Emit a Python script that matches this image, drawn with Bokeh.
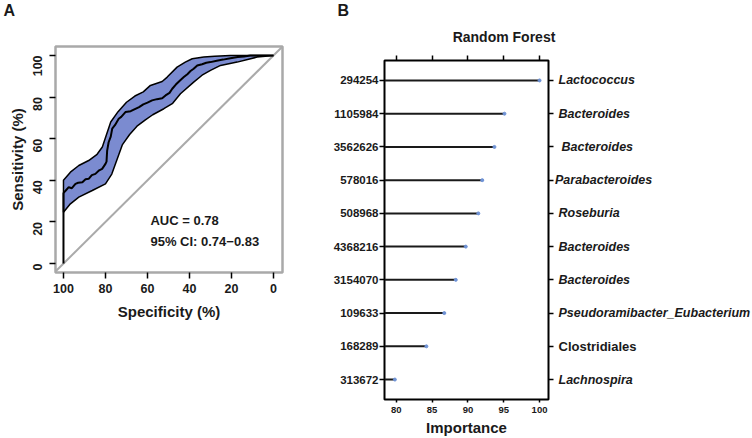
import math
from bokeh.plotting import figure
from bokeh.models import Range1d, FixedTicker, LinearAxis, Label, Title
from bokeh.layouts import row, column
from bokeh.embed import file_html
from bokeh.resources import INLINE
from bokeh.core.properties import value

FONT = "Liberation Sans"
INK = "#1a1a1a"

# ---------------- Panel A data (ROC) ----------------
roc_spec = [100, 100, 99, 97.5, 96, 94.3, 93, 91, 89.5, 88, 86.5, 84.8, 83, 81.6, 80, 79.5, 79.2, 78.5, 77.5, 76.8,
            75.5, 73.7, 72.5, 70.5, 68, 66, 64, 62, 60, 57.8, 55.5, 53, 51.4, 49.5, 48.2, 46.5, 44.5, 42.7, 41, 39.5,
            38, 36.3, 34, 32, 30, 27, 24, 20.5, 17, 14, 11, 6, 0]
roc_sens = [0, 33.8, 35, 36.7, 36.2, 38.3, 38.8, 39.1, 40.5, 40.7, 42.5, 43.1, 44.8, 45.5, 47.9, 49, 54.3, 58.3, 61, 64.8,
            66.5, 69.6, 70.5, 72.8, 73.2, 74.2, 75.2, 76.5, 77.3, 78.4, 79, 79.4, 80.8, 82, 84, 86, 88, 89.6, 91, 92.5,
            93.6, 95.2, 95.8, 96.5, 96.8, 97.5, 98, 98.7, 99.2, 99.5, 100, 100, 100]
ci_upper_spec = [100, 96.7, 92.7, 88, 84, 81.5, 79.5, 77.5, 74, 70, 66, 62, 58.6, 53, 50.6, 45.9, 42, 38.7, 33.2, 28, 20.5, 10, 0]
ci_upper_sens = [40, 43.9, 47.1, 49.5, 52.5, 56, 62, 68, 73, 77.5, 80.5, 82.5, 85.6, 87.5, 89.6, 94.4, 96.8, 98.4, 99.2, 99.6, 100, 100, 100]
ci_lower_spec = [100, 96.7, 92.7, 86.3, 80, 77, 74.5, 72, 68.5, 65, 61, 57.5, 52.2, 48, 44.3, 38, 34, 30, 25.2, 17.3, 7.8, 0]
ci_lower_sens = [24.7, 28.7, 31.9, 35.1, 38.3, 43, 50, 57, 62, 66, 69, 71.5, 74.4, 77, 81.6, 87.2, 90.5, 92.8, 95.2, 96.8, 99.2, 100]
axis_ticks_a = [0, 20, 40, 60, 80, 100]
auc_text = "AUC = 0.78"
ci_text = "95% CI: 0.74\u22120.83"

# ---------------- Panel B data (importance) ----------------
otu_ids = ["294254", "1105984", "3562626", "578016", "508968", "4368216", "3154070", "109633", "168289", "313672"]
taxa = ["Lactococcus", "Bacteroides", "Bacteroides", "Parabacteroides", "Roseburia", "Bacteroides",
        "Bacteroides", "Pseudoramibacter_Eubacterium", "Clostridiales", "Lachnospira"]
taxa_italic = [True, True, True, True, True, True, True, True, False, True]
importance = [100.0, 95.1, 93.7, 92.0, 91.45, 89.7, 88.3, 86.7, 84.2, 79.8]
imp_ticks = [80, 85, 90, 95, 100]

# header texts
panel_letters = ["A", "B"]
title_b = "Random Forest"

HEADER_H = 45
BODY_H = 438 - HEADER_H
A_TOP = 46 - HEADER_H
B_TOP = 60 - HEADER_H


def style_axis(ax, size):
    ax.axis_line_color = None
    ax.major_tick_line_color = "black"
    ax.major_tick_line_width = 1.5
    ax.major_tick_in = 0
    ax.minor_tick_line_color = None
    ax.major_label_text_font = FONT
    ax.major_label_text_font_style = "bold"
    ax.major_label_text_font_size = size
    ax.major_label_text_color = INK
    ax.axis_label_text_font = FONT
    ax.axis_label_text_font_style = "bold"
    ax.axis_label_text_font_size = "15px"
    ax.axis_label_text_color = INK


# ---------------- header strip (panel letters and panel B title) ----------------
ph = figure(width=752, height=HEADER_H, x_range=Range1d(0, 752), y_range=Range1d(HEADER_H, 0),
            output_backend="svg", toolbar_location=None, title=None, frame_align=False,
            x_axis_location=None, y_axis_location=None,
            min_border_left=0, min_border_right=0, min_border_top=0, min_border_bottom=0)
ph.grid.visible = False
ph.outline_line_color = None
ph.text([3, 337], [10, 10], text=panel_letters, text_font=value(FONT), text_font_style="bold",
        text_font_size="16px", text_baseline="middle", text_color=INK)
ph.text([503.5], [36], text=[title_b], text_font=value(FONT), text_font_style="bold",
        text_font_size="14px", text_baseline="middle", text_align="center", text_color=INK)

# ---------------- Panel A ----------------
pA = figure(width=300, height=BODY_H, x_range=Range1d(103.8, -4.3), y_range=Range1d(-4.3, 104.3),
            output_backend="svg", toolbar_location=None, title=None, frame_align=False,
            min_border_left=55, min_border_right=18, min_border_top=A_TOP,
            min_border_bottom=BODY_H - A_TOP - 226)
pA.grid.visible = False
pA.outline_line_color = "#a9a9a9"
pA.outline_line_width = 2.5

for ax in (pA.xaxis[0], pA.yaxis[0]):
    ax.ticker = FixedTicker(ticks=axis_ticks_a)
    style_axis(ax, "12.5px")
    ax.major_tick_out = 6

pA.xaxis.major_label_standoff = 5
pA.yaxis.axis_label = "Sensitivity (%)"
pA.yaxis.major_label_orientation = math.pi / 2
pA.yaxis.major_label_standoff = 12
pA.yaxis.axis_label_standoff = 0

pA.add_layout(Title(text="Specificity (%)", align="center", offset=-12, standoff=10,
                    text_font=FONT, text_font_style="bold", text_font_size="15px", text_color=INK), "below")

# chance diagonal (sens = 100 - spec) across the whole frame
diag_x = [pA.x_range.start, pA.x_range.end]
diag_y = [100 - v for v in diag_x]
pA.line(diag_x, diag_y, line_color="#aaaaaa", line_width=2)

band_x = ci_upper_spec + ci_lower_spec[::-1]
band_y = ci_upper_sens + ci_lower_sens[::-1]
pA.patch(band_x, band_y, fill_color="#7b8bd0", line_color="black", line_width=1.5)
pA.line(roc_spec, roc_sens, line_color="black", line_width=2)

pA.add_layout(Label(x=58.6, y=20.7, text=auc_text, text_font=FONT, text_font_style="bold",
                    text_font_size="13px", text_baseline="middle", text_color=INK))
pA.add_layout(Label(x=58.6, y=10.6, text=ci_text, text_font=FONT, text_font_style="bold",
                    text_font_size="13px", text_baseline="middle", text_color=INK))

# ---------------- Panel B ----------------
n = len(otu_ids)
rows_y = list(range(n - 1, -1, -1))
shared_y = Range1d(-0.6, 9.6)

pB = figure(width=254, height=BODY_H, x_range=Range1d(78.35, 101.25), y_range=shared_y,
            output_backend="svg", toolbar_location=None, title=None, frame_align=False,
            min_border_left=84, min_border_right=6, min_border_top=B_TOP, min_border_bottom=39)
pB.grid.visible = False
pB.outline_line_color = "black"
pB.outline_line_width = 2

xb = pB.xaxis[0]
xb.ticker = FixedTicker(ticks=imp_ticks)
style_axis(xb, "9.5px")
xb.major_tick_out = 3
xb.major_label_standoff = 4

yb = pB.yaxis[0]
yb.ticker = FixedTicker(ticks=rows_y)
yb.major_label_overrides = {r: oid for r, oid in zip(rows_y, otu_ids)}
style_axis(yb, "11.5px")
yb.major_tick_out = 5
yb.major_label_standoff = 1

top_ax = LinearAxis(ticker=FixedTicker(ticks=imp_ticks))
style_axis(top_ax, "1px")
top_ax.major_tick_out = 5
top_ax.major_label_standoff = 0
top_ax.major_label_overrides = {t: "" for t in imp_ticks}
pB.add_layout(top_ax, "above")

right_ax = LinearAxis(ticker=FixedTicker(ticks=rows_y))
style_axis(right_ax, "1px")
right_ax.major_tick_out = 5
right_ax.major_label_standoff = 0
right_ax.major_label_overrides = {r: "" for r in rows_y}
pB.add_layout(right_ax, "right")

pB.add_layout(Title(text="Importance", align="center", offset=20, standoff=2,
                    text_font=FONT, text_font_style="bold", text_font_size="15px", text_color=INK), "below")

x_start = pB.x_range.start
pB.segment(x0=[x_start] * n, y0=rows_y, x1=importance, y1=rows_y, line_color=INK, line_width=2)
pB.scatter(importance, rows_y, size=3, color="#6f93d6")

# ---------------- taxon labels (right of panel B) ----------------
pC = figure(width=198, height=BODY_H, x_range=Range1d(0, 198), y_range=shared_y,
            output_backend="svg", toolbar_location=None, title=None, frame_align=False,
            x_axis_location=None, y_axis_location=None,
            min_border_left=0, min_border_right=0, min_border_top=B_TOP, min_border_bottom=39)
pC.grid.visible = False
pC.outline_line_color = None

label_x = [4, 4, 7, 0.5, 4, 4, 4, 4, 4, 4]
it_x = [x for x, i in zip(label_x, taxa_italic) if i]
it_y = [y for y, i in zip(rows_y, taxa_italic) if i]
it_t = [t for t, i in zip(taxa, taxa_italic) if i]
up_x = [x for x, i in zip(label_x, taxa_italic) if not i]
up_y = [y for y, i in zip(rows_y, taxa_italic) if not i]
up_t = [t for t, i in zip(taxa, taxa_italic) if not i]
pC.text(it_x, it_y, text=it_t, text_font=value(FONT), text_font_style="bold italic",
        text_font_size="12.5px", text_baseline="middle", text_color=INK)
pC.text(up_x, up_y, text=up_t, text_font=value(FONT), text_font_style="bold",
        text_font_size="13px", text_baseline="middle", text_color=INK)

layout = column(ph, row(pA, pB, pC))
open("out.html", "w").write(file_html(layout, INLINE))
